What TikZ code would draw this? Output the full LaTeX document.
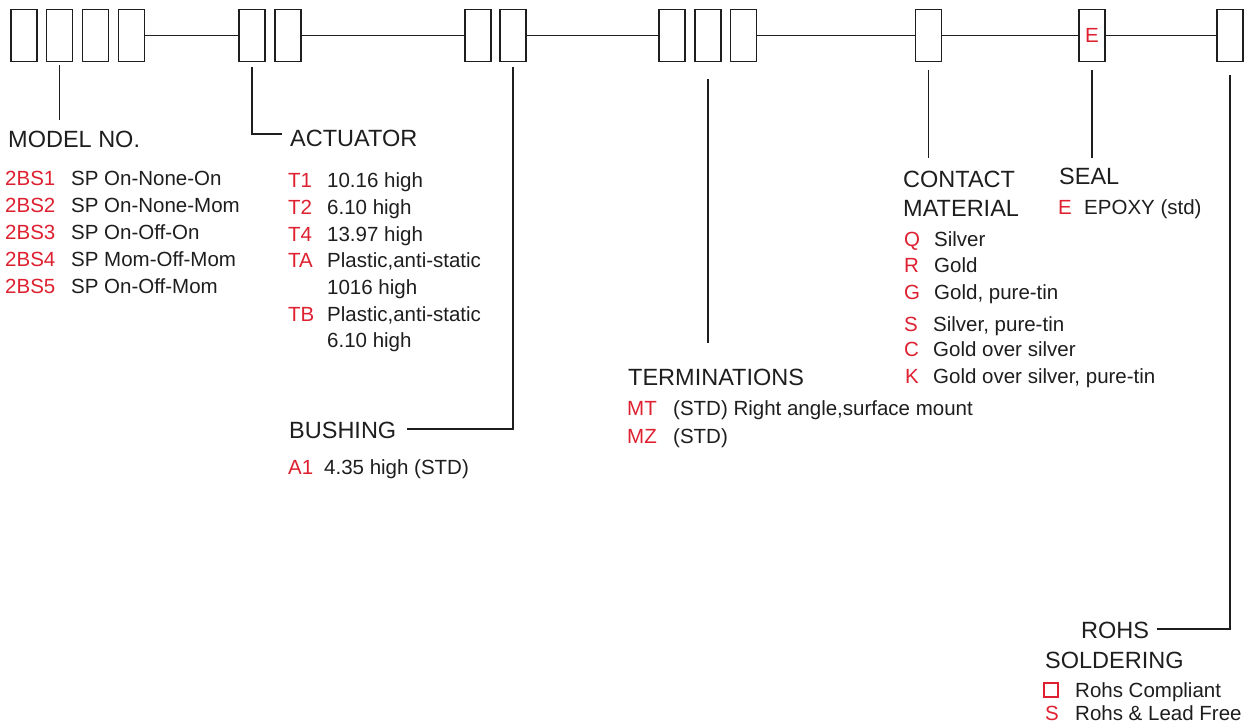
\documentclass[tikz,border=0pt]{standalone}
\usepackage{fontspec}
\setmainfont{Liberation Sans}
\definecolor{cred}{RGB}{222,32,48}
\definecolor{ink}{RGB}{30,30,30}
\begin{document}
\begin{tikzpicture}[x=1pt,y=-1pt,
  box/.style={draw=ink,line width=1.9pt,minimum width=26pt,minimum height=52pt,inner sep=0pt},
  wire/.style={draw=ink,line width=1.9pt},
  head/.style={anchor=base west,inner sep=0pt,text=ink,font=\fontsize{23.5}{27}\selectfont},
  code/.style={anchor=base west,inner sep=0pt,text=cred,font=\fontsize{20.5}{24}\selectfont},
  desc/.style={anchor=base west,inner sep=0pt,text=ink,font=\fontsize{20.5}{24}\selectfont}]
\fill[white] (0,0) rectangle (1251,726);
\useasboundingbox (0,0) rectangle (1251,726);

% boxes
\node[box] (b1) at (24,35.5) {};
\node[box] (b2) at (59.5,35.5) {};
\node[box] (b3) at (95.5,35.5) {};
\node[box] (b4) at (131.5,35.5) {};
\node[box] (a1) at (252,35.5) {};
\node[box] (a2) at (288,35.5) {};
\node[box] (u1) at (478,35.5) {};
\node[box] (u2) at (513,35.5) {};
\node[box] (t1) at (672,35.5) {};
\node[box] (t2) at (708,35.5) {};
\node[box] (t3) at (743.5,35.5) {};
\node[box] (cb) at (928.5,35.5) {};
\node[box,text=cred,font=\fontsize{20.5}{24}\selectfont] (sb) at (1092,35.5) {E};
\node[box] (rb) at (1230,35.5) {};

% horizontal chain
\draw[wire] (b4.east) -- (a1.west);
\draw[wire] (a2.east) -- (u1.west);
\draw[wire] (u2.east) -- (t1.west);
\draw[wire] (t3.east) -- (cb.west);
\draw[wire] (cb.east) -- (sb.west);
\draw[wire] (sb.east) -- (rb.west);

% headings
\node[head] (hmodel) at (8,147) {MODEL NO.};
\node[head] (hact) at (290,146) {ACTUATOR};
\node[head] (hbush) at (289,438) {BUSHING};
\node[head] (hterm) at (628,385) {TERMINATIONS};
\node[head] (hcont) at (903,187) {CONTACT};
\node[head] (hmat) at (903,216) {MATERIAL};
\node[head] (hseal) at (1059,184) {SEAL};
\node[head] (hrohs) at (1081,638) {ROHS};
\node[head] (hsold) at (1045,668) {SOLDERING};

% leaders
\coordinate (mEnd) at (59.5,120);
\draw[wire] ([yshift=-3pt]b2.south) -- (mEnd);
\coordinate (aCorner) at (252,134);
\coordinate (aEnd) at (282,134);
\draw[wire] ([yshift=-5pt]a1.south) -- (aCorner) -- (aEnd);
\coordinate (uCorner) at (513,429);
\coordinate (uEnd) at (407,429);
\draw[wire] ([yshift=-5pt]u2.south) -- (uCorner) -- (uEnd);
\coordinate (tEnd) at (708,343);
\draw[wire] ([yshift=-17pt]t2.south) -- (tEnd);
\coordinate (cEnd) at (928.5,158);
\draw[wire] ([yshift=-8pt]cb.south) -- (cEnd);
\coordinate (sEnd) at (1092,158);
\draw[wire] ([yshift=-8pt]sb.south) -- (sEnd);
\coordinate (rCorner) at (1230,629);
\coordinate (rEnd) at (1157,629);
\draw[wire] ([yshift=-13pt]rb.south) -- (rCorner) -- (rEnd);

% model items
\node[code] (m1c) at (5,185) {2BS1};   \node[desc] (m1d) at (71,185) {SP On-None-On};
\node[code] (m2c) at (5,212) {2BS2};   \node[desc] (m2d) at (71,212) {SP On-None-Mom};
\node[code] (m3c) at (5,239) {2BS3};   \node[desc] (m3d) at (71,239) {SP On-Off-On};
\node[code] (m4c) at (5,266) {2BS4};   \node[desc] (m4d) at (71,266) {SP Mom-Off-Mom};
\node[code] (m5c) at (5,293) {2BS5};   \node[desc] (m5d) at (71,293) {SP On-Off-Mom};

% actuator items
\node[code] (a1c) at (288,187) {T1};   \node[desc] (a1d) at (327,187) {10.16 high};
\node[code] (a2c) at (288,214) {T2};   \node[desc] (a2d) at (327,214) {6.10 high};
\node[code] (a3c) at (288,241) {T4};   \node[desc] (a3d) at (327,241) {13.97 high};
\node[code] (a4c) at (288,267) {TA};   \node[desc] (a4d) at (327,267) {Plastic,anti-static};
\node[desc] (a4e) at (327,294) {1016 high};
\node[code] (a5c) at (288,321) {TB};   \node[desc] (a5d) at (327,321) {Plastic,anti-static};
\node[desc] (a5e) at (327,347) {6.10 high};

% bushing
\node[code] (u1c) at (288,474) {A1};   \node[desc] (u1d) at (324,474) {4.35 high (STD)};

% terminations
\node[code] (t1c) at (627,415) {MT};   \node[desc] (t1d) at (673,415) {(STD) Right angle,surface mount};
\node[code] (t2c) at (627,443) {MZ};   \node[desc] (t2d) at (673,443) {(STD)};

% contact
\node[code] (c1c) at (904,246) {Q};   \node[desc] (c1d) at (934,246) {Silver};
\node[code] (c2c) at (904,272) {R};   \node[desc] (c2d) at (934,272) {Gold};
\node[code] (c3c) at (904,299) {G};   \node[desc] (c3d) at (934,299) {Gold, pure-tin};
\node[code] (c4c) at (904,331) {S};   \node[desc] (c4d) at (933,331) {Silver, pure-tin};
\node[code] (c5c) at (904,356) {C};   \node[desc] (c5d) at (933,356) {Gold over silver};
\node[code] (c6c) at (905,383) {K};   \node[desc] (c6d) at (933,383) {Gold over silver, pure-tin};

% seal
\node[code] (s1c) at (1058,214) {E};   \node[desc] (s1d) at (1084,214) {EPOXY (std)};

% rohs
\node[draw=cred,line width=1.5pt,minimum size=14pt,inner sep=0pt] (r1c) at (1051,690) {};
\node[desc] (r1d) at (1075,697) {Rohs Compliant};
\node[code] (r2c) at (1045,720) {S};   \node[desc] (r2d) at (1075,720) {Rohs \& Lead Free};
\end{tikzpicture}
\end{document}
